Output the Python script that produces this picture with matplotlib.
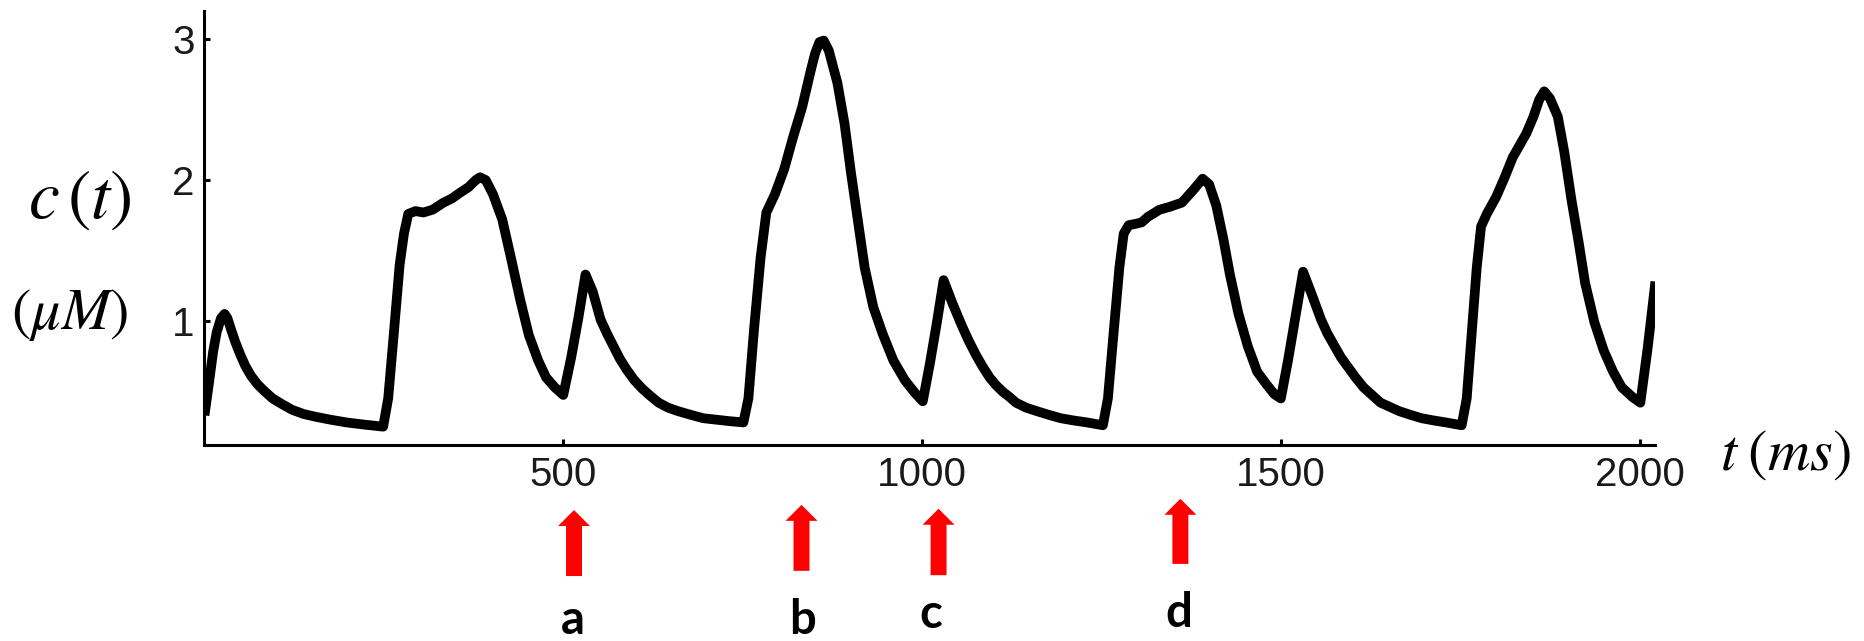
"""
Calcium trace c(t) with stimulus arrows a-d
"""
import matplotlib
matplotlib.use("Agg")
import matplotlib.pyplot as plt

# trace: time in ms, concentration in uM
t_ms = [0, 6, 12, 17, 23, 28, 32, 37, 43, 50, 57, 65, 74, 84, 95, 108, 122, 138, 155, 175, 198, 222, 249,
        256, 264, 272, 278, 284, 294, 305, 318, 333, 345, 356, 368, 378, 384, 392, 402,
        415, 427, 440, 452, 465, 476, 488, 500,
        511, 521, 531, 541, 552, 561, 570, 579, 589, 599, 610, 621, 633, 646, 660, 677, 695, 712, 730, 751,
        758, 766, 775, 783, 795, 808, 820, 833, 845, 851, 857, 863, 870, 882, 892, 901, 911, 920,
        932, 945, 960, 976, 990, 1001,
        1011, 1021, 1030, 1042, 1056, 1065, 1075, 1084, 1094, 1103, 1112, 1122, 1131, 1145, 1160, 1176,
        1193, 1210, 1230, 1252,
        1259, 1267, 1275, 1281, 1288, 1298, 1306, 1315, 1331, 1345, 1362, 1378, 1391, 1400,
        1410, 1420, 1429, 1441, 1454, 1467, 1480, 1491, 1500,
        1510, 1520, 1531, 1543, 1556, 1565, 1575, 1584, 1594, 1604, 1615, 1627, 1639, 1652, 1665, 1680,
        1696, 1712, 1730, 1752,
        1759, 1766, 1773, 1779, 1787, 1800, 1812, 1823, 1833, 1842, 1852, 1860, 1867, 1875,
        1886, 1895, 1905, 1915, 1924, 1937, 1950, 1963, 1975, 1990, 2001, 2011, 2022]
c_um = [0.33, 0.55, 0.78, 0.92, 1.02, 1.05, 1.02, 0.94, 0.85, 0.76, 0.68, 0.61, 0.55, 0.50, 0.45, 0.41, 0.37, 0.34, 0.32, 0.30, 0.28, 0.265, 0.25,
        0.45, 0.92, 1.40, 1.62, 1.76, 1.78, 1.77, 1.79, 1.84, 1.87, 1.91, 1.95, 2.00, 2.02, 2.00, 1.90,
        1.72, 1.45, 1.15, 0.90, 0.72, 0.60, 0.53, 0.475,
        0.74, 1.02, 1.33, 1.21, 1.01, 0.91, 0.82, 0.73, 0.65, 0.58, 0.52, 0.47, 0.42, 0.385, 0.36, 0.335, 0.31, 0.30, 0.29, 0.28,
        0.45, 0.95, 1.45, 1.77, 1.90, 2.08, 2.30, 2.52, 2.78, 2.90, 2.98, 2.99, 2.92, 2.69, 2.40, 2.05, 1.70, 1.38,
        1.10, 0.91, 0.72, 0.58, 0.49, 0.43,
        0.70, 1.00, 1.29, 1.13, 0.96, 0.86, 0.76, 0.68, 0.60, 0.545, 0.50, 0.46, 0.42, 0.385, 0.36, 0.335,
        0.31, 0.295, 0.28, 0.26,
        0.45, 0.92, 1.38, 1.62, 1.68, 1.69, 1.70, 1.74, 1.79, 1.81, 1.84, 1.93, 2.01, 1.97,
        1.82, 1.58, 1.33, 1.05, 0.82, 0.64, 0.55, 0.48, 0.45,
        0.72, 1.02, 1.35, 1.19, 1.01, 0.91, 0.82, 0.74, 0.67, 0.60, 0.53, 0.475, 0.42, 0.39, 0.36, 0.335,
        0.31, 0.295, 0.28, 0.26,
        0.45, 0.92, 1.38, 1.67, 1.76, 1.88, 2.02, 2.16, 2.25, 2.33, 2.45, 2.57, 2.63, 2.58,
        2.45, 2.20, 1.86, 1.56, 1.27, 0.99, 0.79, 0.64, 0.53, 0.46, 0.42, 0.80, 1.28]

x_ticks = [500, 1000, 1500, 2000]
y_ticks = [1, 2, 3]

# stimulus markers
arrow_t = [515, 832, 1023, 1360]
arrow_tip = [-0.150, -0.138, -0.147, -0.124]
arrow_tail = [-0.302, -0.290, -0.300, -0.274]
arrow_labels = ["a", "b", "c", "d"]
label_t = [513, 833, 1012, 1358]
label_y = [-0.435, -0.435, -0.422, -0.419]

plt.rcParams["mathtext.fontset"] = "stix"

fig = plt.figure(figsize=(18.64, 6.41), dpi=100)
ax = fig.add_axes([0.1097, 0.3058, 0.7784, 0.677])

ax.plot(t_ms, c_um, color="black", lw=7, solid_joinstyle="round", solid_capstyle="butt")

ax.set_xlim(0, 2022)
ax.set_ylim(0.12, 3.2)
ax.set_xticks(x_ticks)
ax.set_yticks(y_ticks)
for side in ["top", "right"]:
    ax.spines[side].set_visible(False)
for side in ["left", "bottom"]:
    ax.spines[side].set_linewidth(2.2)
ax.tick_params(direction="in", length=4, width=2.2, labelsize=29, labelcolor="#1a1a1a")
ax.tick_params(axis="x", pad=8)
ax.tick_params(axis="y", pad=7)
for lab in ax.get_xticklabels() + ax.get_yticklabels():
    lab.set_family("Liberation Sans")

for t, tip, tail in zip(arrow_t, arrow_tip, arrow_tail):
    ax.annotate("", xy=(t, tip), xytext=(t, tail),
                xycoords=("data", "axes fraction"), textcoords=("data", "axes fraction"),
                arrowprops=dict(width=11.5, headwidth=23, headlength=11.5, shrink=0,
                                color="#ff0000", lw=0))

for t, y, s in zip(label_t, label_y, arrow_labels):
    ax.text(t, y, s, transform=ax.get_xaxis_transform(), ha="center", va="baseline",
            fontsize=34, fontweight="bold", family="Lato", clip_on=False)

fig.text(0.043, 0.691, r"$c\,(t)$", fontsize=50, ha="center", va="center")
fig.text(0.0376, 0.509, r"$(\mu M)$", fontsize=42, ha="center", va="center")
fig.text(0.958, 0.292, r"$t\;(ms)$", fontsize=42, ha="center", va="center")

fig.savefig("out.png", dpi=100)
